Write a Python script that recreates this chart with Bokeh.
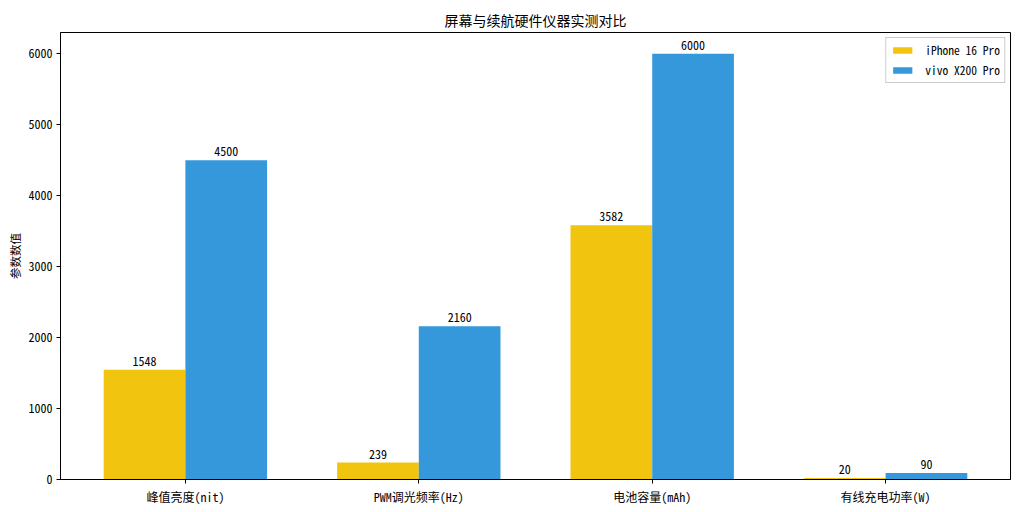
from bokeh.plotting import figure
from bokeh.models import ColumnDataSource, Range1d, FixedTicker, Legend, LegendItem
from bokeh.embed import file_html
from bokeh.resources import INLINE
from bokeh.core.properties import value

categories = ["峰值亮度(nit)", "PWM调光频率(Hz)", "电池容量(mAh)", "有线充电功率(W)"]
series_names = ["iPhone 16 Pro", "vivo X200 Pro"]
iphone_vals = [1548, 239, 3582, 20]
vivo_vals = [4500, 2160, 6000, 90]
colors = ["#F1C40F", "#3498DB"]
y_ticks = [0, 1000, 2000, 3000, 4000, 5000, 6000]

FONT = "'Noto Sans Mono CJK SC', 'Noto Sans CJK SC', 'DejaVu Sans Mono', monospace"
W = 0.35

p = figure(frame_width=950, frame_height=447, output_backend="svg", toolbar_location=None,
           x_range=Range1d(-0.535, 3.535), y_range=Range1d(0, 6300),
           min_border_left=60, min_border_right=6, min_border_top=32, min_border_bottom=25)
p.title.text = "屏幕与续航硬件仪器实测对比"
p.title.align = "center"
p.title.text_font = FONT
p.title.text_font_size = "14px"
p.title.text_font_style = "normal"
p.title.text_color = "black"
p.title.standoff = 5

idx = list(range(len(categories)))
items = []
for k, (vals, name, col) in enumerate(zip([iphone_vals, vivo_vals], series_names, colors)):
    off = -W / 2 if k == 0 else W / 2
    src = ColumnDataSource(dict(x=[i + off for i in idx], top=vals,
                                lab=[str(v) for v in vals]))
    r = p.vbar(x="x", top="top", width=W, bottom=0, source=src, fill_color=col,
               line_color=None)
    p.text(x="x", y="top", text="lab", source=src, text_align="center",
           text_baseline="bottom", y_offset=-4, text_font=value(FONT),
           text_font_size="12px", text_color="black")
    items.append(LegendItem(label=name, renderers=[r]))

legend = Legend(items=items, location="top_right", label_text_font=FONT,
                label_text_font_size="11.5px", label_text_color="black",
                glyph_width=24, glyph_height=8,
                spacing=4, padding=4, margin=5, border_line_color="#cccccc",
                border_line_alpha=1, label_standoff=11, label_height=12)
p.add_layout(legend)

p.xaxis.ticker = FixedTicker(ticks=idx)
p.xaxis.major_label_overrides = {i: c for i, c in zip(idx, categories)}
p.yaxis.ticker = FixedTicker(ticks=y_ticks)
p.yaxis.axis_label = "参数数值"
p.yaxis.axis_label_text_font = FONT
p.yaxis.axis_label_text_font_size = "11.5px"
p.yaxis.axis_label_text_font_style = "normal"
p.yaxis.axis_label_text_color = "black"
p.yaxis.axis_label_standoff = 2
for ax in (p.xaxis, p.yaxis):
    ax.major_label_text_font = FONT
    ax.major_label_text_font_size = "12px"
    ax.major_label_text_color = "black"
    ax.minor_tick_line_color = None
    ax.major_tick_in = 0
    ax.major_tick_out = 4
    ax.axis_line_color = "black"
    ax.major_tick_line_color = "black"
    ax.major_label_standoff = 4
p.xgrid.grid_line_color = None
p.ygrid.grid_line_color = None
p.outline_line_color = "black"
p.outline_line_alpha = 1

open("out.html", "w").write(file_html(p, INLINE))
